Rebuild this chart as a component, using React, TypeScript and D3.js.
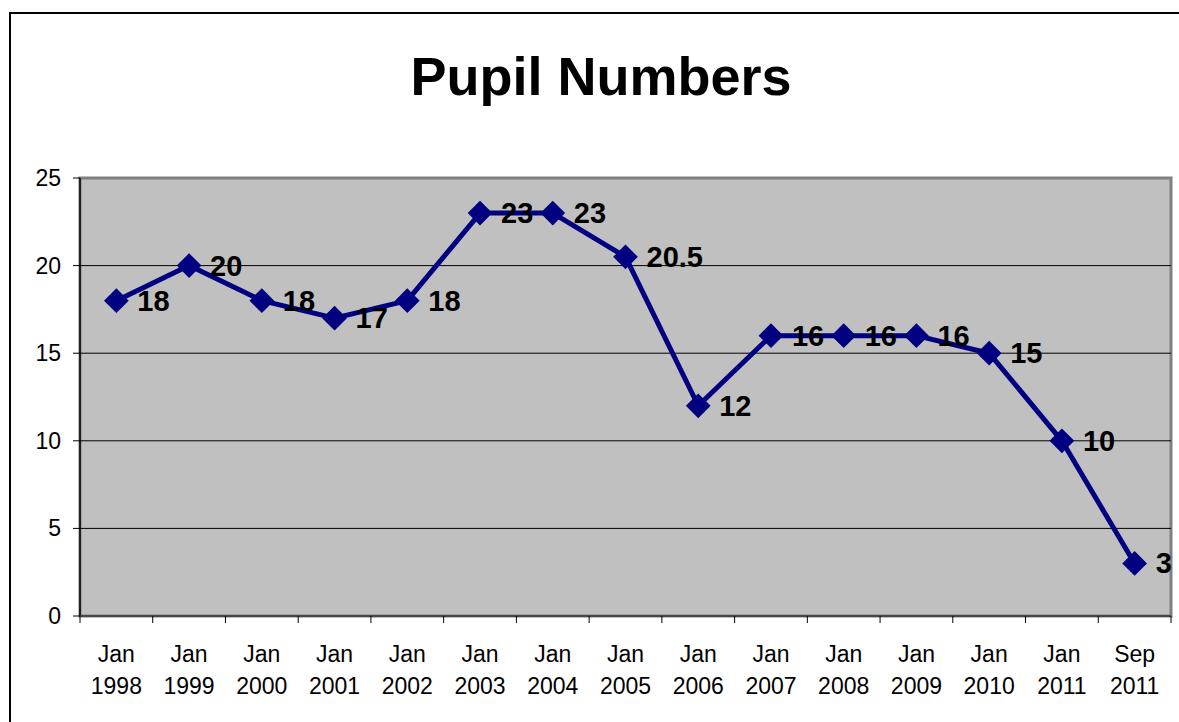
import React from "react";
import * as d3 from "d3";

const monthLabels = ["Jan","Jan","Jan","Jan","Jan","Jan","Jan","Jan","Jan","Jan","Jan","Jan","Jan","Jan","Sep"];
const yearLabels = ["1998","1999","2000","2001","2002","2003","2004","2005","2006","2007","2008","2009","2010","2011","2011"];
const pupils = [18, 20, 18, 17, 18, 23, 23, 20.5, 12, 16, 16, 16, 15, 10, 3];
const yTicks = [0, 5, 10, 15, 20, 25];

const W = 1179, H = 722;
const plot = { left: 80, right: 1171, top: 178, bottom: 616 };

export default function App() {
  const cats = pupils.map((_, i) => String(i));
  const x = d3.scaleBand().domain(cats).range([plot.left, plot.right]);
  const y = d3.scaleLinear().domain([0, 25]).range([plot.bottom, plot.top]);
  const cx = (i: number) => (x(String(i)) as number) + x.bandwidth() / 2;
  const line = d3.line<number>().x((_, i) => cx(i)).y((d) => y(d));
  const font = "Arial, 'Liberation Sans', Helvetica, sans-serif";
  const diamond = d3.symbol().type(d3.symbolDiamond2).size(390)();

  return (
    <svg width={W} height={H} style={{ position: "absolute", left: 0, top: 0, background: "#fff" }} fontFamily={font}>
      <rect x={10} y={13} width={W + 20} height={H + 20} fill="#fff" stroke="#000" strokeWidth={2} />
      <text x={601} y={95} textAnchor="middle" fontSize={54} fontWeight="bold">Pupil Numbers</text>
      <rect x={plot.left} y={plot.top} width={plot.right - plot.left} height={plot.bottom - plot.top} fill="#C0C0C0" stroke="#808080" strokeWidth={3} />
      {yTicks.filter((t) => t > 0 && t < 25).map((t) => (
        <line key={"g" + t} x1={plot.left} x2={plot.right} y1={y(t)} y2={y(t)} stroke="#000" strokeWidth={1} />
      ))}
      <line x1={plot.left} x2={plot.left} y1={plot.top} y2={plot.bottom} stroke="#000" strokeWidth={1.5} />
      <line x1={plot.left} x2={plot.right} y1={plot.bottom} y2={plot.bottom} stroke="#333" strokeWidth={1.5} />
      {yTicks.map((t) => (
        <g key={"y" + t}>
          <line x1={plot.left - 7} x2={plot.left} y1={y(t)} y2={y(t)} stroke="#000" strokeWidth={1} />
          <text x={61} y={y(t) + 8} textAnchor="end" fontSize={23}>{t}</text>
        </g>
      ))}
      {pupils.map((_, i) => (
        <line key={"xt" + i} x1={x(String(i)) as number} x2={x(String(i)) as number} y1={plot.bottom} y2={plot.bottom + 7} stroke="#000" strokeWidth={1} />
      ))}
      <line x1={plot.right} x2={plot.right} y1={plot.bottom} y2={plot.bottom + 7} stroke="#000" strokeWidth={1} />
      {pupils.map((_, i) => (
        <g key={"xl" + i}>
          <text x={cx(i)} y={662} textAnchor="middle" fontSize={23}>{monthLabels[i]}</text>
          <text x={cx(i)} y={694} textAnchor="middle" fontSize={23}>{yearLabels[i]}</text>
        </g>
      ))}
      <path d={line(pupils) as string} fill="none" stroke="#000080" strokeWidth={5} strokeLinejoin="round" />
      {pupils.map((v, i) => (
        <path key={"m" + i} d={diamond as string} transform={`translate(${cx(i)},${y(v)})`} fill="#000080" />
      ))}
      {pupils.map((v, i) => (
        <text key={"dl" + i} x={cx(i) + 21} y={y(v) + 10} fontSize={29} fontWeight="bold" fill="#000">{v}</text>
      ))}
    </svg>
  );
}
